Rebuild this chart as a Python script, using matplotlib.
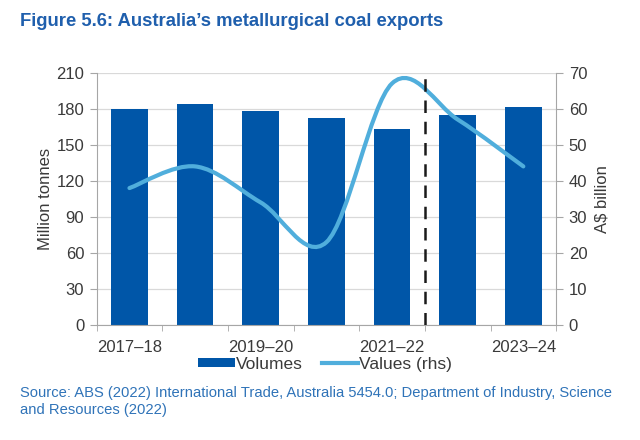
import numpy as np
import matplotlib.pyplot as plt
from matplotlib.path import Path
from matplotlib.patches import PathPatch, Patch
from matplotlib.lines import Line2D

plt.rcParams['font.family'] = ['Liberation Sans', 'DejaVu Sans']

years = ['2017–18', '2018–19', '2019–20', '2020–21', '2021–22', '2022–23', '2023–24']
volumes = [180, 184, 178, 172, 163, 175, 181]      # Mt, left axis
values = [38, 44, 34, 23, 67, 57, 44]              # A$b, right axis
label_years = ['2017–18', '2019–20', '2021–22', '2023–24']

BAR = '#0056A8'
LINE = '#50AEDC'
TITLE = '#1F5FAD'
GRID = '#D9D9D9'
SPINE = '#A6A6A6'
TEXT = '#3A3A3A'
FS = 12


def smooth_path(xs, ys):
    # Catmull-Rom style bezier segments, similar to Excel's smoothed line
    xs = np.asarray(xs, float)
    ys = np.asarray(ys, float)
    n = len(xs)
    verts = [(xs[0], ys[0])]
    codes = [Path.MOVETO]
    for i in range(n - 1):
        p0 = max(i - 1, 0)
        p3 = min(i + 2, n - 1)
        c1 = (xs[i] + (xs[i + 1] - xs[p0]) / 6, ys[i] + (ys[i + 1] - ys[p0]) / 6)
        c2 = (xs[i + 1] - (xs[p3] - xs[i]) / 6, ys[i + 1] - (ys[p3] - ys[i]) / 6)
        verts += [c1, c2, (xs[i + 1], ys[i + 1])]
        codes += [Path.CURVE4] * 3
    return Path(verts, codes)


fig = plt.figure(figsize=(6.4, 4.4), dpi=100)
ax = fig.add_axes([0.151, 0.261, 0.718, 0.574])
x = np.arange(len(years))

ax.bar(x, volumes, width=0.56, color=BAR, zorder=2)
ax.set_xlim(-0.5, len(years) - 0.5)
ax.set_ylim(0, 210)
ax.set_yticks(np.arange(0, 211, 30))
ax.yaxis.grid(True, color=GRID, linewidth=0.9, zorder=0)
ax.set_axisbelow(True)
ax.set_xticks([0, 2, 4, 6])
ax.set_xticklabels(label_years)
ax.set_xticks(np.arange(-0.5, len(years)), minor=True)
ax.tick_params(axis='x', which='major', length=0, pad=11, labelsize=FS, labelcolor=TEXT)
ax.tick_params(axis='x', which='minor', length=4, color=SPINE)
ax.tick_params(axis='y', length=5, color=SPINE, labelsize=FS, labelcolor=TEXT, pad=4)
ax.set_ylabel('Million tonnes', fontsize=FS, color=TEXT, labelpad=2)
for s in ['top', 'right']:
    ax.spines[s].set_visible(False)
for s in ['left', 'bottom']:
    ax.spines[s].set_color(SPINE)

ax2 = ax.twinx()
ax2.set_ylim(0, 70)
ax2.set_yticks(np.arange(0, 71, 10))
ax2.tick_params(axis='y', length=5, color=SPINE, labelsize=FS, labelcolor=TEXT, pad=4)
ax2.set_ylabel('A$ billion', fontsize=FS, color=TEXT, labelpad=5)
for s in ['top', 'left', 'bottom']:
    ax2.spines[s].set_visible(False)
ax2.spines['right'].set_color(SPINE)
ax2.add_patch(PathPatch(smooth_path(x, values), facecolor='none', edgecolor=LINE,
                        linewidth=3, capstyle='round', zorder=3))

ax2.axvline(4.5, color='#1A1A1A', linestyle=(0, (5, 3.5)), linewidth=1.8, zorder=4)

handles = [Patch(facecolor=BAR, edgecolor='none'),
           Line2D([0], [0], color=LINE, linewidth=3)]
fig.legend(handles, ['Volumes', 'Values (rhs)'], loc='center', ncol=2,
           bbox_to_anchor=(0.508, 0.172), frameon=False, fontsize=12.5,
           handlelength=2.1, handleheight=0.45, handletextpad=0.05,
           columnspacing=1.1, labelcolor=TEXT)

fig.text(0.031, 0.95, 'Figure 5.6: Australia’s metallurgical coal exports',
         fontsize=13.3, fontweight='bold', color=TITLE, va='center')
fig.text(0.031, 0.087, 'Source: ABS (2022) International Trade, Australia 5454.0; '
         'Department of Industry, Science\nand Resources (2022)',
         fontsize=10.6, color='#2F73B8', va='center', linespacing=1.3)

fig.savefig('out.png', dpi=100)
